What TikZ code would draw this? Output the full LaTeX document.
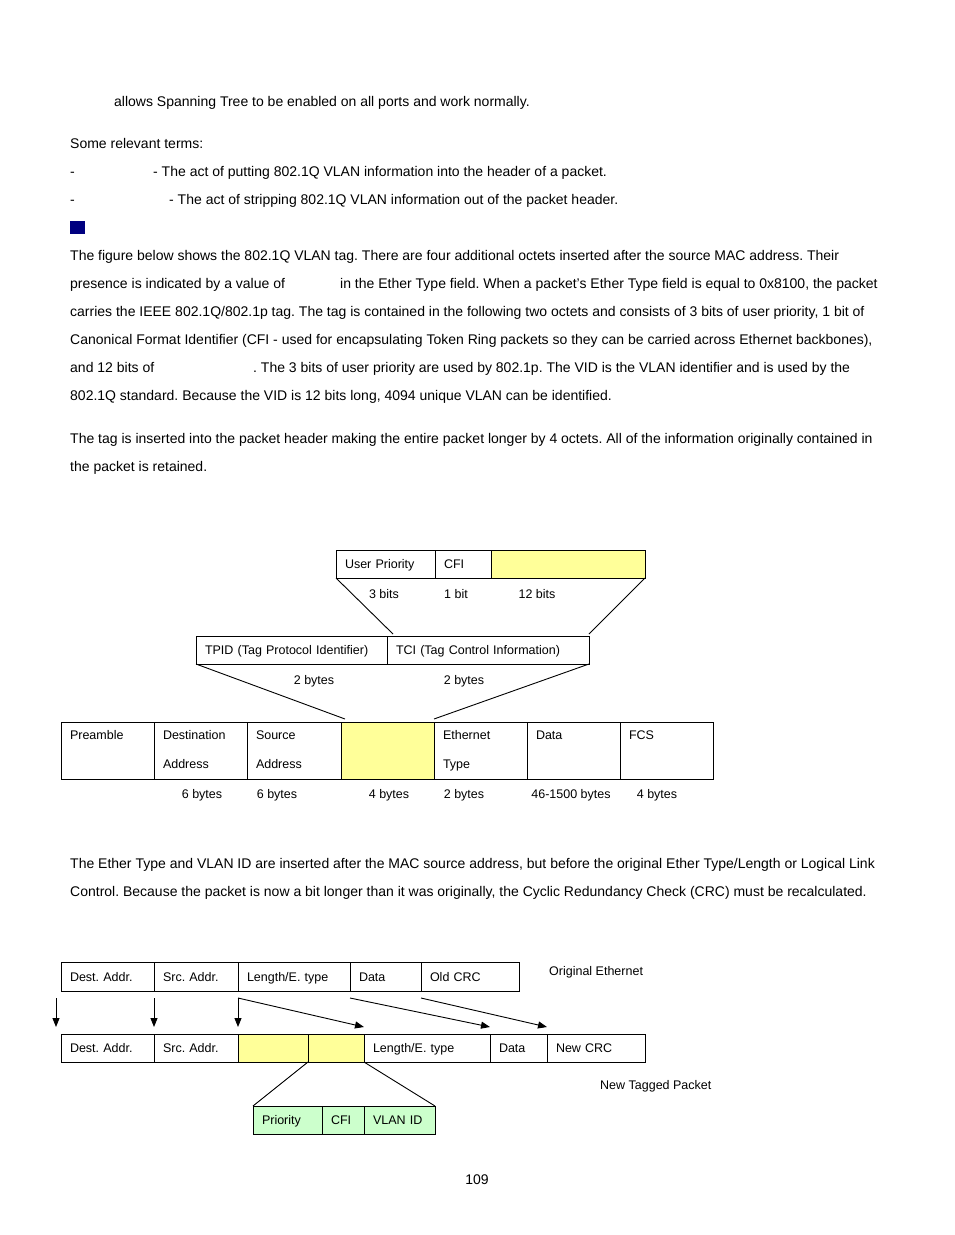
\documentclass[tikz,border=0pt]{standalone}
\usepackage{fontspec}
\setmainfont{Liberation Sans}
\usetikzlibrary{positioning, arrows.meta}
\frenchspacing
\definecolor{Tag}{HTML}{FFFF99}
\definecolor{Vid}{HTML}{CCFFCC}
\definecolor{Navy}{HTML}{000080}
\newcommand\bodyfont{\fontsize{14}{17}\selectfont}
\newcommand\figfont{\fontsize{12.5}{29}\selectfont}
\tikzset{
    para/.style={anchor=base west, inner sep=0pt, font=\bodyfont},
    lbl/.style={anchor=base, inner sep=0pt, font=\figfont},
    cell/.style={draw, rectangle, line width=0.9pt, outer sep=0pt, inner xsep=9pt, inner ysep=0pt,
        minimum height=28pt, text height=9pt, text depth=0pt, align=left, font=\figfont},
    tall/.style={minimum height=57pt, text height=9pt, text depth=31pt},
    cw/.style={text width=\the\dimexpr#1pt-18pt\relax},
    wire/.style={line width=0.9pt},
    arr/.style={-{Triangle[length=9pt,width=7pt]}, line width=0.9pt},
}
\begin{document}
\begin{tikzpicture}[x=1pt, y=-1pt]
    \fill[white] (0,0) rectangle (954,1235);
    \useasboundingbox (0,0) rectangle (954,1235);

    % 1. Testo della pagina
    \node[para] (p1) at (114,106) {allows Spanning Tree to be enabled on all ports and work normally.};
    \node[para] (p2) at (70,148) {Some relevant terms:};
    \node[para] (d1) at (70,176) {-};
    \node[para] (p3) at (153,176) {- The act of putting 802.1Q VLAN information into the header of a packet.};
    \node[para] (d2) at (70,204) {-};
    \node[para] (p4) at (169,204) {- The act of stripping 802.1Q VLAN information out of the packet header.};
    \fill[Navy] (70,221) rectangle (85,234);
    \node[para] (p5) at (70,260) {The figure below shows the 802.1Q VLAN tag. There are four additional octets inserted after the source MAC address. Their};
    \node[para] (p6a) at (70,288) {presence is indicated by a value of};
    \node[para] (p6b) at (340,288) {in the Ether Type field. When a packet's Ether Type field is equal to 0x8100, the packet};
    \node[para] (p7) at (70,316) {carries the IEEE 802.1Q/802.1p tag. The tag is contained in the following two octets and consists of 3 bits of user priority, 1 bit of};
    \node[para] (p8) at (70,344) {Canonical Format Identifier (CFI - used for encapsulating Token Ring packets so they can be carried across Ethernet backbones),};
    \node[para] (p9a) at (70,372) {and 12 bits of};
    \node[para] (p9b) at (253,372) {. The 3 bits of user priority are used by 802.1p. The VID is the VLAN identifier and is used by the};
    \node[para] (p10) at (70,400) {802.1Q standard. Because the VID is 12 bits long, 4094 unique VLAN can be identified.};
    \node[para] (p11) at (70,443) {The tag is inserted into the packet header making the entire packet longer by 4 octets. All of the information originally contained in};
    \node[para] (p12) at (70,471) {the packet is retained.};

    % 2. Il tag 802.1Q
    \node[cell, cw=99, anchor=north west] (upri) at (336,550) {User Priority};
    \node[cell, cw=56, right=0pt of upri] (cfi) {CFI};
    \node[cell, cw=154, right=0pt of cfi, fill=Tag] (vid) {};
    \node[lbl] (b3) at (384,598) {3 bits};
    \node[lbl] (b1) at (456,598) {1 bit};
    \node[lbl] (b12) at (537,598) {12 bits};

    \node[cell, cw=191, anchor=north west] (tpid) at (196,636) {TPID (Tag Protocol Identifier)};
    \node[cell, cw=202, right=0pt of tpid] (tci) {TCI (Tag Control Information)};
    \node[lbl] (t2a) at (314,684) {2 bytes};
    \node[lbl] (t2b) at (464,684) {2 bytes};
    \draw[wire] (upri.south west) -- ([xshift=6pt,yshift=2pt]tci.north west);
    \draw[wire] (vid.south east) -- ([yshift=2pt]tci.north east);

    % Trama Ethernet con il tag inserito
    \node[cell, tall, cw=93, anchor=north west] (pre) at (61,722) {Preamble};
    \node[cell, tall, cw=93, right=0pt of pre] (dst) {Destination\\Address};
    \node[cell, tall, cw=94, right=0pt of dst] (src) {Source\\Address};
    \node[cell, tall, cw=93, right=0pt of src, fill=Tag] (tag) {};
    \node[cell, tall, cw=93, right=0pt of tag] (etype) {Ethernet\\Type};
    \node[cell, tall, cw=93, right=0pt of etype] (data) {Data};
    \node[cell, tall, cw=93, right=0pt of data] (fcs) {FCS};
    \draw[wire] (tpid.south west) -- ([xshift=4pt,yshift=3pt]tag.north west);
    \draw[wire] (tci.south east) -- ([yshift=3pt]tag.north east);

    \node[lbl] (s1) at (202,798) {6 bytes};
    \node[lbl] (s2) at (277,798) {6 bytes};
    \node[lbl] (s3) at (389,798) {4 bytes};
    \node[lbl] (s4) at (464,798) {2 bytes};
    \node[lbl] (s5) at (571,798) {46-1500 bytes};
    \node[lbl] (s6) at (657,798) {4 bytes};

    \node[para] (p13) at (70,868) {The Ether Type and VLAN ID are inserted after the MAC source address, but before the original Ether Type/Length or Logical Link};
    \node[para] (p14) at (70,896) {Control. Because the packet is now a bit longer than it was originally, the Cyclic Redundancy Check (CRC) must be recalculated.};

    % 3. Da Ethernet originale a pacchetto taggato
    \node[cell, cw=93, minimum height=29pt, anchor=north west] (odst) at (61,962) {Dest. Addr.};
    \node[cell, cw=84, minimum height=29pt, right=0pt of odst] (osrc) {Src. Addr.};
    \node[cell, cw=112, minimum height=29pt, right=0pt of osrc] (olen) {Length/E. type};
    \node[cell, cw=71, minimum height=29pt, right=0pt of olen] (odat) {Data};
    \node[cell, cw=98, minimum height=29pt, right=0pt of odat] (ocrc) {Old CRC};
    \node[lbl, anchor=base west] (orig) at (549,975) {Original Ethernet};

    \node[cell, cw=93, anchor=north west] (ndst) at (61,1034) {Dest. Addr.};
    \node[cell, cw=84, right=0pt of ndst] (nsrc) {Src. Addr.};
    \node[cell, cw=70, right=0pt of nsrc, fill=Tag] (ntag1) {};
    \node[cell, cw=56, right=0pt of ntag1, fill=Tag] (ntag2) {};
    \node[cell, cw=126, right=0pt of ntag2] (nlen) {Length/E. type};
    \node[cell, cw=57, right=0pt of nlen] (ndat) {Data};
    \node[cell, cw=98, right=0pt of ndat] (ncrc) {New CRC};
    \node[lbl, anchor=base west] (newt) at (600,1089) {New Tagged Packet};

    \draw[arr] ([xshift=-5pt,yshift=-7pt]odst.south west) -- ([xshift=-5pt,yshift=7pt]ndst.north west);
    \draw[arr] ([yshift=-7pt]osrc.south west) -- ([yshift=7pt]nsrc.north west);
    \draw[arr] ([yshift=-7pt]olen.south west) -- ([yshift=7pt]ntag1.north west);
    \draw[arr] ([yshift=-7pt]olen.south west) -- ([yshift=7pt]nlen.north west);
    \draw[arr] ([yshift=-7pt]odat.south west) -- ([yshift=7pt]ndat.north west);
    \draw[arr] ([yshift=-7pt]ocrc.south west) -- ([yshift=7pt]ncrc.north west);

    % Campi del tag
    \node[cell, cw=69, anchor=north west, fill=Vid] (prio) at (253,1106) {Priority};
    \node[cell, cw=42, right=0pt of prio, fill=Vid] (gcfi) {CFI};
    \node[cell, cw=71, right=0pt of gcfi, fill=Vid] (vlan) {VLAN ID};
    \draw[wire] (ntag2.south west) -- (prio.north west);
    \draw[wire] (ntag2.south east) -- (vlan.north east);

    \node[para, anchor=base] (page) at (477,1184) {109};
\end{tikzpicture}
\end{document}
